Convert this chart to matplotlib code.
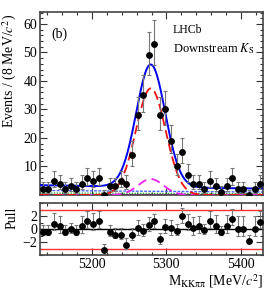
import numpy as np
import matplotlib
matplotlib.use("Agg")
import matplotlib.pyplot as plt
from matplotlib.ticker import MultipleLocator, FixedLocator

plt.rcParams['font.family'] = ['Liberation Serif', 'DejaVu Serif']
plt.rcParams['mathtext.fontset'] = 'stix'

# ---------------- data ----------------
mass_lo, mass_hi = 5130.0, 5430.0
n_bins = 40
counts = [2, 2, 5, 4, 2, 3, 2, 4, 6, 5,
          6, 0, 3, 3, 5, 4, 14, 28, 35, 49,
          53, 28, 30, 19, 10, 15, 7, 4, 4, 2,
          5, 3, 1, 3, 6, 2, 2, 0, 2, 4]
pulls = [-0.46, -0.46, 0.82, 0.41, -0.46, -0.05, -0.46, 0.41, 1.23, 0.82,
         1.23, -3.3, -0.46, -0.87, -0.87, -2.46, -0.87, 0.15, -0.26, 0.62,
         1.23, -1.54, 0.31, 0.15, -0.26, 1.95, 0.77, 0.15, 0.41, -0.21,
         1.18, 0.41, -0.51, 0.41, 1.59, 0.0, 0.0, -1.85, 0.0, 1.08]

# fit model parameters (events per bin)
sig_amp, sig_mean, sig_sigma = 37.4, 5279.0, 20.0
pk_amp, pk_mean, pk_sigma = 5.6, 5279.0, 17.0
comb_left, comb_right = 1.6, 1.05
green_left, green_right = 0.7, 0.45
magsolid_level = 0.15
extra_left, extra_right = 1.0, 0.6

xticks_major = [5200, 5300, 5400]
yticks_major = [10, 20, 30, 40, 50, 60]
pull_ticks = [-2, 0, 2]

# ---------------- derived ----------------
counts = np.array(counts, dtype=float)
pulls = np.array(pulls, dtype=float)
bw = (mass_hi - mass_lo) / n_bins
centers = mass_lo + bw * (np.arange(n_bins) + 0.5)

def poisson_err(n):
    n = np.asarray(n, float)
    up = n + np.sqrt(n + 0.75) + 1.0
    with np.errstate(divide='ignore', invalid='ignore'):
        lo = np.where(n > 0, n * (1 - 1 / (9 * n) - 1 / (3 * np.sqrt(n))) ** 3, 0.0)
    return n - lo, up - n

elo, ehi = poisson_err(counts)
with np.errstate(divide='ignore', invalid='ignore'):
    p_lo = np.where(pulls >= 0, 1.0, np.where(ehi > 0, elo / ehi, 0.0))
    p_hi = np.where(pulls >= 0, np.where(elo > 0, ehi / elo, 1.0), 1.0)

x = np.linspace(mass_lo, mass_hi, 600)
t = (x - mass_lo) / (mass_hi - mass_lo)
sig = sig_amp * np.exp(-0.5 * ((x - sig_mean) / sig_sigma) ** 2)
pk = pk_amp * np.exp(-0.5 * ((x - pk_mean) / pk_sigma) ** 2)
comb = comb_left * (comb_right / comb_left) ** t
green = green_left * (green_right / green_left) ** t
magsolid = np.full_like(x, magsolid_level)
extra = extra_left * (extra_right / extra_left) ** t
total = sig + pk + comb + green + magsolid + extra

# ---------------- figure ----------------
W, H = 279, 294
fig = plt.figure(figsize=(W / 100, H / 100), dpi=100)
L, R = 40, 263
ax = fig.add_axes([L / W, 1 - 195 / H, (R - L) / W, (195 - 12) / H])
axp = fig.add_axes([L / W, 1 - 255 / H, (R - L) / W, (255 - 203) / H])

frame_col = '#444444'
for a in (ax, axp):
    for s in a.spines.values():
        s.set_color(frame_col)
        s.set_linewidth(1.2)
    a.tick_params(which='both', direction='in', top=True, right=True,
                  color='#333333', labelsize=10, pad=2)
    a.tick_params(which='major', length=5, width=0.8)
    a.tick_params(which='minor', length=2.5, width=0.8)
    a.set_xlim(mass_lo, mass_hi)
    a.xaxis.set_major_locator(FixedLocator(xticks_major))
    a.xaxis.set_minor_locator(MultipleLocator(20))

# background components
ax.plot(x, magsolid, color='#cc00cc', lw=1.3, zorder=2)
ax.plot(x, green, color='#33aa33', lw=1.0, ls=(0, (1, 1)), zorder=2)
ax.plot(x, comb, color='#4466ff', lw=1.0, ls=(0, (2, 1)), zorder=2)
ax.plot(x, pk, color='#ee22ee', lw=1.3, ls=(0, (5, 3)), zorder=3)
ax.plot(x, sig, color='#ee1111', lw=1.3, ls=(0, (5, 2.5)), zorder=3)
ax.plot(x, total, color='#0000ee', lw=1.4, zorder=4)

ax.errorbar(centers, counts, yerr=[elo, ehi], fmt='o', ms=3.9, color='black',
            ecolor='#777777', elinewidth=0.8, capsize=1.2, capthick=0.8, zorder=5)

ax.set_ylim(0, 64.2)
ax.yaxis.set_major_locator(FixedLocator(yticks_major))
ax.yaxis.set_minor_locator(MultipleLocator(2))
ax.tick_params(axis='x', labelbottom=False)
ax.set_ylabel('Events / (8 MeV/$c^2$)', fontsize=10)
ax.yaxis.set_label_coords(-0.095, 0.68)

ax.text(0.05, 0.86, '(b)', transform=ax.transAxes, fontsize=10, va='baseline')
ax.text(0.595, 0.885, 'LHCb', transform=ax.transAxes, fontsize=8.5, va='baseline')
ax.text(0.595, 0.78, 'Downstream $K_{\\rm S}$', transform=ax.transAxes, fontsize=9,
        va='baseline')

# pull panel
axp.axhline(3, color='#ff3333', lw=1.0)
axp.axhline(-3, color='#ff3333', lw=1.0)
axp.axhline(0, color='black', lw=1.0)
axp.errorbar(centers, pulls, yerr=[p_lo, p_hi], fmt='o', ms=3.9, color='black',
             ecolor='#777777', elinewidth=0.8, capsize=1.2, capthick=0.8, zorder=5)
axp.set_ylim(-4.0, 4.0)
axp.yaxis.set_major_locator(FixedLocator(pull_ticks))
axp.yaxis.set_minor_locator(MultipleLocator(1))
axp.set_yticklabels(['\u22122', '0', '2'])
axp.set_ylabel('Pull', fontsize=10)
axp.yaxis.set_label_coords(-0.095, 0.72)
axp.set_xlabel('M$_{\\rm KK\\pi\\pi}$ [MeV/$c^2$]', fontsize=10, labelpad=1)
axp.xaxis.set_label_coords(1.0, -0.33)
axp.xaxis.label.set_horizontalalignment('right')

fig.savefig('out.png', dpi=100)
